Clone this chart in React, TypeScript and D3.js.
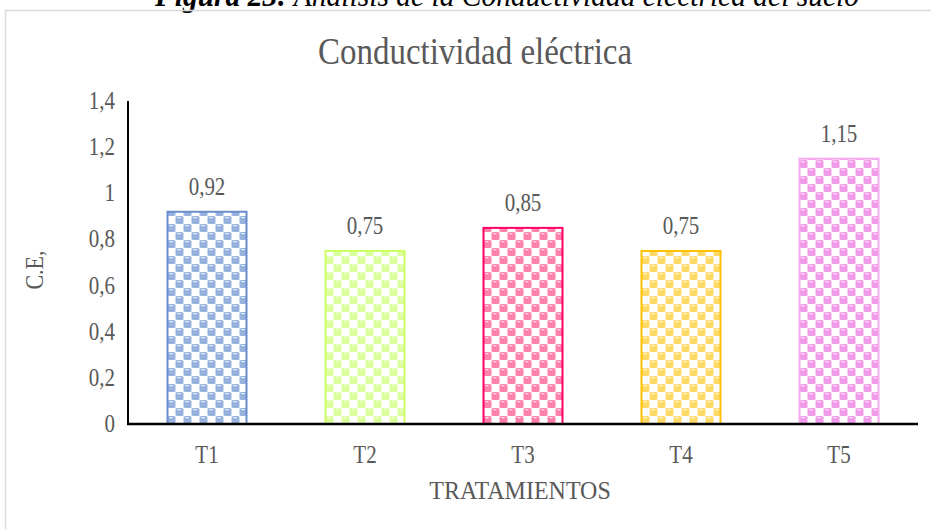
import React from "react";
import * as d3 from "d3";

const categories = ["T1", "T2", "T3", "T4", "T5"];
const values = [0.92, 0.75, 0.85, 0.75, 1.15];
const valueLabels = ["0,92", "0,75", "0,85", "0,75", "1,15"];
const yTicks = [0, 0.2, 0.4, 0.6, 0.8, 1, 1.2, 1.4];
const fills = ["#97b2df", "#dbff9a", "#ff80ad", "#ffd966", "#f19ae9"];
const strokes = ["#6a8ecb", "#ccff66", "#ff0066", "#ffc000", "#f4aaef"];

const W = 931;
const H = 529;
const left = 128;
const right = 918;
const top = 101;
const bottom = 424;
const serif = "'Liberation Serif', 'Times New Roman', serif";
const grey = "#595959";

function T(props: { x: number; y: number; size: number; anchor?: string; sy?: number; rotate?: number; fill?: string; children: React.ReactNode; style?: string; weight?: string }) {
  const sy = props.sy ?? 1.15;
  const rot = props.rotate ? ` rotate(${props.rotate})` : "";
  return (
    <text
      transform={`translate(${props.x},${props.y})${rot} scale(1,${sy})`}
      textAnchor={props.anchor ?? "middle"}
      fontFamily={serif}
      fontSize={props.size}
      fontStyle={props.style}
      fontWeight={props.weight}
      fill={props.fill ?? grey}
    >
      {props.children}
    </text>
  );
}

export default function App() {
  const x = d3.scaleBand<string>().domain(categories).range([left, right]).paddingInner(0.5).paddingOuter(0.25);
  const y = d3.scaleLinear().domain([0, 1.4]).range([bottom, top]);
  const fmt = (v: number) => (v === 0 ? "0" : d3.format(".1f")(v).replace(".", ",").replace(",0", ""));
  return (
    <svg width={W} height={H} style={{ position: "absolute", left: 0, top: 0, background: "#fff" }}>
      <defs>
        {categories.map((c, i) => (
          <pattern key={c} id={`pat${i}`} patternUnits="userSpaceOnUse" width={16} height={16} x={x(c)} y={0}>
            <rect width={16} height={16} fill="#fff" />
            <rect x={0} y={0} width={8} height={8} rx={1.5} fill={fills[i]} />
            <rect x={8} y={8} width={8} height={8} rx={1.5} fill={fills[i]} />
            <rect x={2} y={1} width={3} height={1.2} fill="#fff" opacity={0.85} />
            <rect x={10} y={9} width={3} height={1.2} fill="#fff" opacity={0.85} />
          </pattern>
        ))}
      </defs>
      <T x={507} y={6} size={29.5} style="italic" fill="#000" sy={1.1}>
        <tspan fontWeight="bold">Figura 23:</tspan> Análisis de la Conductividad eléctrica del suelo
      </T>
      <rect x={5.5} y={10.5} width={940} height={540} fill="none" stroke="#d9d9d9" strokeWidth={1.5} />
      <T x={475} y={64} size={33} sy={1.15}>
        Conductividad eléctrica
      </T>
      {categories.map((c, i) => (
        <g key={c}>
          <rect
            x={x(c)!}
            y={y(values[i])}
            width={x.bandwidth()}
            height={y(0) - y(values[i])}
            fill={`url(#pat${i})`}
            stroke={strokes[i]}
            strokeWidth={2}
          />
          <T x={x(c)! + x.bandwidth() / 2} y={y(values[i]) - 17} size={21}>
            {valueLabels[i]}
          </T>
          <T x={x(c)! + x.bandwidth() / 2} y={bottom + 39} size={21}>
            {c}
          </T>
        </g>
      ))}
      {yTicks.map((t) => (
        <T key={t} x={115} y={y(t) + 8} size={21} anchor="end">
          {fmt(t)}
        </T>
      ))}
      <line x1={left} y1={top} x2={left} y2={bottom} stroke="#000" strokeWidth={2} />
      <line x1={left - 1} y1={bottom} x2={right} y2={bottom} stroke="#000" strokeWidth={2.5} />
      <T x={520} y={499} size={24} sy={1.05}>
        TRATAMIENTOS
      </T>
      <T x={43} y={270} size={22} rotate={-90}>
        C.E,
      </T>
    </svg>
  );
}
